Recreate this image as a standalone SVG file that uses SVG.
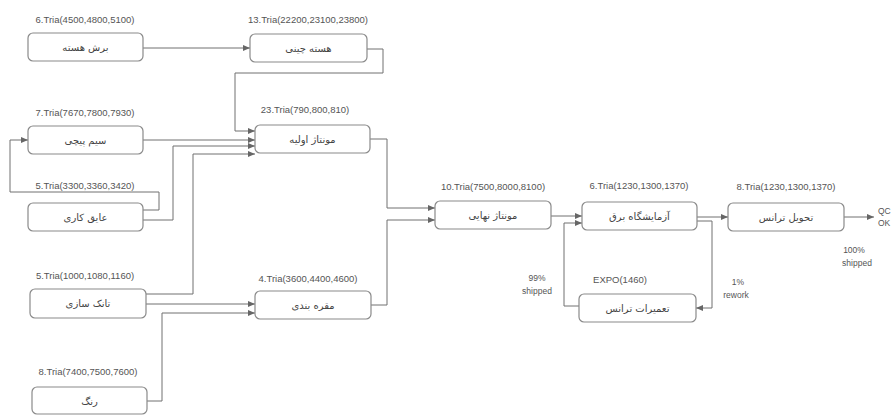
<svg xmlns="http://www.w3.org/2000/svg" width="893" height="415" viewBox="0 0 893 415">
<defs>
<marker id="arr" markerWidth="7" markerHeight="6" refX="7" refY="3" orient="auto" markerUnits="userSpaceOnUse">
<path d="M0,0 L7,3 L0,6 z" fill="#666"/>
</marker>
</defs>
<style>
.box{fill:#fff;stroke:#8a8a8a;stroke-width:1.2}
.nt{font-family:"DejaVu Sans",sans-serif;font-size:10px;fill:#444;text-anchor:middle;direction:rtl}
.lb{font-family:"Liberation Sans",Arial,sans-serif;font-size:9.5px;fill:#555;text-anchor:middle}
.c{fill:none;stroke:#707070;stroke-width:1;marker-end:url(#arr)}
.pl{font-family:"Liberation Sans",Arial,sans-serif;font-size:8.5px;fill:#555;text-anchor:middle}
</style>
<rect width="893" height="415" fill="#fff"/>
<g id="connectors">
<path class="c" d="M143,48 H250"/>
<path class="c" d="M367,49 H383 V73 H235 V131 H255"/>
<path class="c" d="M143,140 H255"/>
<path class="c" d="M143,210 H159 V192 H10 V140 H28"/>
<path class="c" d="M143,220 H173 V146 H255"/>
<path class="c" d="M146,294 H193 V154 H255"/>
<path class="c" d="M146,304 H255"/>
<path class="c" d="M147,401 H162 V313 H255"/>
<path class="c" d="M370,139 H387 V208 H435"/>
<path class="c" d="M371,305 H387 V220 H435"/>
<path class="c" d="M551,216 H582"/>
<path class="c" d="M697,217 H728"/>
<path class="c" d="M697,221 H712 V308 H696"/>
<path class="c" d="M579,306 H564 V223 H582"/>
<path class="c" d="M844,217 H874"/>
</g>
<g id="n1"><rect class="box" x="28" y="33" width="115" height="28" rx="5"/><text class="nt" x="85.5" y="51">برش هسته</text><text class="lb" x="85" y="23">6.Tria(4500,4800,5100)</text></g>
<g id="n2"><rect class="box" x="250" y="34" width="117" height="28" rx="5"/><text class="nt" x="308.5" y="52">هسته چینی</text><text class="lb" x="308" y="23">13.Tria(22200,23100,23800)</text></g>
<g id="n3"><rect class="box" x="28" y="126" width="115" height="28" rx="5"/><text class="nt" x="85.5" y="144">سیم پیچی</text><text class="lb" x="85" y="116">7.Tria(7670,7800,7930)</text></g>
<g id="n4"><rect class="box" x="255" y="125" width="115" height="28" rx="5"/><text class="nt" x="312.5" y="143">مونتاژ اولیه</text><text class="lb" x="305" y="113">23.Tria(790,800,810)</text></g>
<g id="n5"><rect class="box" x="28" y="203" width="115" height="28" rx="5"/><text class="nt" x="85.5" y="221">عایق کاری</text><text class="lb" x="85" y="189">5.Tria(3300,3360,3420)</text></g>
<g id="n6"><rect class="box" x="30" y="289" width="116" height="29" rx="5"/><text class="nt" x="88" y="307">تانک سازی</text><text class="lb" x="85" y="279">5.Tria(1000,1080,1160)</text></g>
<g id="n7"><rect class="box" x="255" y="291" width="116" height="28" rx="5"/><text class="nt" x="313" y="309">مقره بندی</text><text class="lb" x="308" y="282">4.Tria(3600,4400,4600)</text></g>
<g id="n8"><rect class="box" x="32" y="387" width="115" height="27" rx="5"/><text class="nt" x="89.5" y="405">رنگ</text><text class="lb" x="88" y="375">8.Tria(7400,7500,7600)</text></g>
<g id="n9"><rect class="box" x="435" y="201" width="116" height="28" rx="5"/><text class="nt" x="493" y="219">مونتاژ نهایی</text><text class="lb" x="493" y="190">10.Tria(7500,8000,8100)</text></g>
<g id="n10"><rect class="box" x="582" y="202" width="115" height="28" rx="5"/><text class="nt" x="639.5" y="220">آزمایشگاه برق</text><text class="lb" x="639" y="189">6.Tria(1230,1300,1370)</text></g>
<g id="n11"><rect class="box" x="728" y="203" width="116" height="28" rx="5"/><text class="nt" x="786" y="221">تحویل ترانس</text><text class="lb" x="786" y="190">8.Tria(1230,1300,1370)</text></g>
<g id="n12"><rect class="box" x="579" y="294" width="117" height="28" rx="5"/><text class="nt" x="637.5" y="312">تعمیرات ترانس</text><text class="lb" x="620" y="283">EXPO(1460)</text></g>
<g id="labels">
<text class="pl" x="878" y="214" style="text-anchor:start">QC</text>
<text class="pl" x="878" y="226" style="text-anchor:start">OK</text>
<text class="pl" x="854" y="253">100%</text>
<text class="pl" x="857" y="266">shipped</text>
<text class="pl" x="537" y="281">99%</text>
<text class="pl" x="537" y="294">shipped</text>
<text class="pl" x="738" y="285">1%</text>
<text class="pl" x="736" y="298">rework</text>
</g>
</svg>
